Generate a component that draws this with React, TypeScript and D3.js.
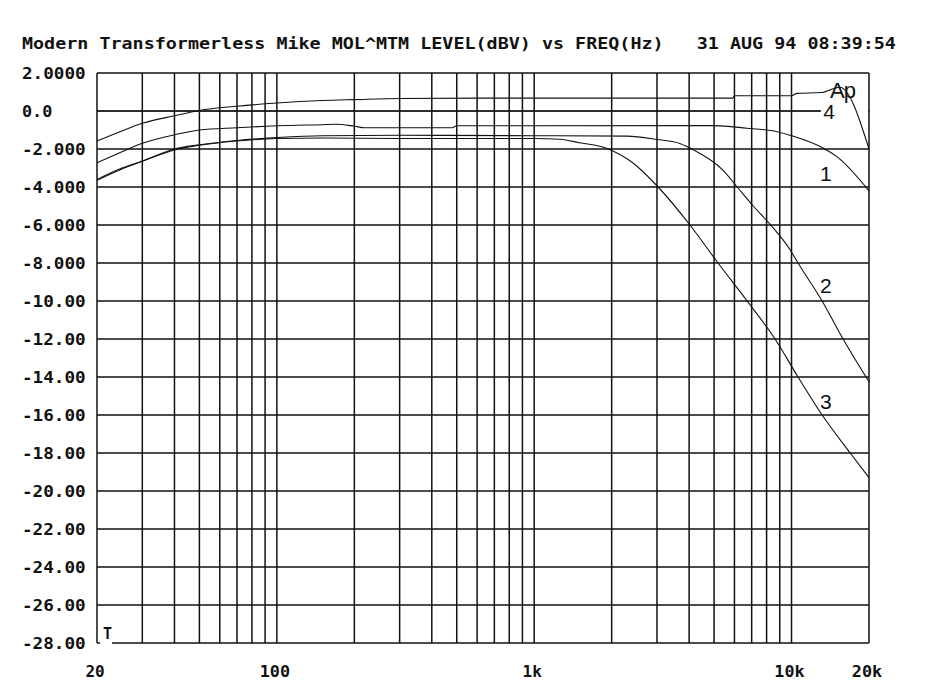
import React from "react";
import * as d3 from "d3";

const TITLE = "Modern Transformerless Mike MOL^MTM LEVEL(dBV) vs FREQ(Hz)   31 AUG 94 08:39:54";

const xTickValues = [20, 100, 1000, 10000, 20000];
const xTickLabels = ["20", "100", "1k", "10k", "20k"];
const xGrid = [20, 30, 40, 50, 60, 70, 80, 90, 100, 200, 300, 400, 500, 600, 700, 800, 900, 1000, 2000, 3000, 4000, 5000, 6000, 7000, 8000, 9000, 10000, 20000];
const yTickValues = [2, 0, -2, -4, -6, -8, -10, -12, -14, -16, -18, -20, -22, -24, -26, -28];
const yTickLabels = ["2.0000", "0.0", "-2.000", "-4.000", "-6.000", "-8.000", "-10.00", "-12.00", "-14.00", "-16.00", "-18.00", "-20.00", "-22.00", "-24.00", "-26.00", "-28.00"];

// frequency (Hz), level (dBV)
const apFreq = [20, 25, 30, 40, 50, 70, 100, 150, 200, 300, 1000, 2000, 5000, 5900, 6000, 10000, 10500, 13000, 15400, 20000];
const apLevel = [-1.58, -1.05, -0.65, -0.25, 0.03, 0.25, 0.42, 0.55, 0.6, 0.66, 0.68, 0.68, 0.68, 0.68, 0.8, 0.8, 0.93, 0.97, 1.25, -2.0];

const c4Freq = [20, 100, 1000, 10000, 12900];
const c4Level = [0, 0, 0, 0, 0];

const c1Freq = [20, 25, 30, 40, 50, 70, 100, 150, 170, 200, 220, 480, 500, 5000, 6700, 8800, 10000, 13300, 15000, 20000];
const c1Level = [-2.72, -2.15, -1.7, -1.25, -1.0, -0.88, -0.78, -0.72, -0.7, -0.8, -0.88, -0.88, -0.78, -0.77, -0.91, -1.09, -1.3, -1.96, -2.4, -4.2];

const c2Freq = [20, 25, 30, 40, 50, 70, 100, 150, 300, 1000, 2300, 3000, 3700, 4100, 5400, 6150, 7100, 8300, 9870, 10600, 13150, 15860, 20000];
const c2Level = [-3.6, -3.0, -2.63, -2.0, -1.78, -1.55, -1.4, -1.3, -1.28, -1.3, -1.32, -1.5, -1.72, -2.0, -3.1, -4.0, -5.0, -6.0, -7.3, -8.0, -10.0, -12.0, -14.25];

const c3Freq = [20, 25, 30, 40, 50, 70, 100, 150, 300, 1000, 1260, 1500, 1940, 2400, 3030, 4030, 5180, 6720, 8630, 10600, 13150, 16900, 20000];
const c3Level = [-3.65, -3.05, -2.65, -2.05, -1.8, -1.58, -1.45, -1.42, -1.45, -1.45, -1.49, -1.67, -2.0, -2.7, -4.0, -6.0, -8.0, -10.0, -12.0, -14.0, -16.0, -18.0, -19.3];

const seriesList = [
  { freq: apFreq, level: apLevel },
  { freq: c4Freq, level: c4Level },
  { freq: c1Freq, level: c1Level },
  { freq: c2Freq, level: c2Level },
  { freq: c3Freq, level: c3Level },
];

const curveLabels = [
  { text: "4", f: 14000, db: 0, dy: 8 },
  { text: "1", f: 13600, db: -3.7, dy: 0 },
  { text: "2", f: 13600, db: -9.6, dy: 0 },
  { text: "3", f: 13600, db: -15.7, dy: 0 },
];

export default function App() {
  const W = 939, H = 700;
  const x = d3.scaleLog().domain([20, 20000]).range([97, 869]);
  const y = d3.scaleLinear().domain([-28, 2]).range([643, 73]);
  const line = d3
    .line<[number, number]>()
    .x((d) => x(d[0]))
    .y((d) => y(d[1]))
    .curve(d3.curveMonotoneX);

  const mono = "'DejaVu Sans Mono', monospace";
  const sans = "'Liberation Sans', Arial, sans-serif";
  const cell = 11.1;

  return (
    <svg
      width={W}
      height={H}
      style={{ position: "absolute", left: 0, top: 0, background: "#fff" }}
    >
      <rect x={0} y={0} width={W} height={H} fill="#fff" />
      <text
        x={22}
        y={49}
        fontFamily={mono}
        fontWeight="bold"
        fontSize={16}
        textLength={TITLE.length * cell - 3}
        lengthAdjust="spacingAndGlyphs"
        style={{ whiteSpace: "pre" }}
        fill="#111"
      >
        {TITLE}
      </text>

      {/* grid */}
      {xGrid.map((f) => (
        <line key={"vx" + f} x1={x(f)} x2={x(f)} y1={y(2)} y2={y(-28)} stroke="#111" strokeWidth={1.5} />
      ))}
      {yTickValues.map((v) => (
        <line key={"hy" + v} x1={x(20)} x2={x(20000)} y1={y(v)} y2={y(v)} stroke="#111" strokeWidth={1.5} />
      ))}

      {/* label backgrounds */}
      <rect x={x(12900) + 1} y={y(0) - 7} width={x(20000) - x(12900) - 2} height={14} fill="#fff" />
      <rect x={x(20) + 3} y={y(-28) - 18} width={12} height={20} fill="#fff" />

      {/* curves */}
      {seriesList.map((s, i) => (
        <path
          key={"s" + i}
          d={line(s.freq.map((f, j) => [f, s.level[j]] as [number, number])) || ""}
          fill="none"
          stroke="#111"
          strokeWidth={1.1}
        />
      ))}

      {/* curve labels */}
      {curveLabels.map((l) => (
        <text
          key={"cl" + l.text}
          x={x(l.f)}
          y={y(l.db) + l.dy}
          fontFamily={sans}
          fontSize={21}
          textAnchor="middle"
          fill="#111"
        >
          {l.text}
        </text>
      ))}
      <text x={830} y={98} fontFamily={sans} fontSize={22} fill="#111" letterSpacing={-1}>
        Ap
      </text>
      <text x={103} y={639} fontFamily={mono} fontWeight="bold" fontSize={15} fill="#111">
        T
      </text>

      {/* y labels */}
      {yTickValues.map((v, i) => (
        <text
          key={"yl" + v}
          x={22}
          y={y(v) + 6}
          fontFamily={mono}
          fontWeight="bold"
          fontSize={16}
          textLength={yTickLabels[i].length * cell - 3}
          lengthAdjust="spacingAndGlyphs"
          fill="#111"
        >
          {yTickLabels[i]}
        </text>
      ))}

      {/* x labels */}
      {xTickValues.map((v, i) => (
        <text
          key={"xl" + v}
          x={x(v) - 2}
          y={677}
          fontFamily={mono}
          fontWeight="bold"
          fontSize={16}
          textAnchor="middle"
          textLength={xTickLabels[i].length * cell - 3}
          lengthAdjust="spacingAndGlyphs"
          fill="#111"
        >
          {xTickLabels[i]}
        </text>
      ))}
    </svg>
  );
}
